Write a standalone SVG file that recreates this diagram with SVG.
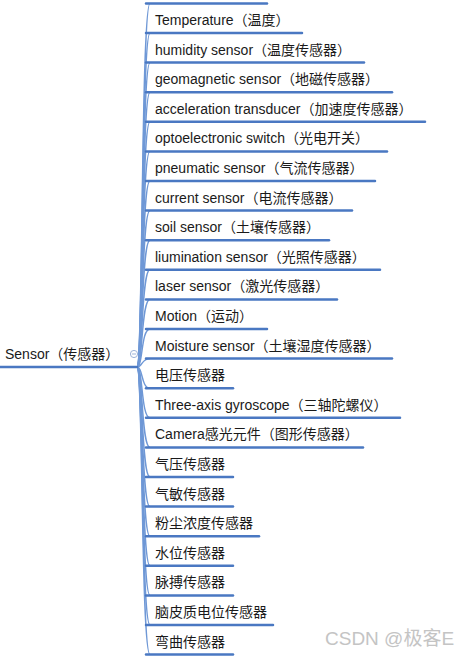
<svg xmlns="http://www.w3.org/2000/svg" width="463" height="657" viewBox="0 0 463 657">
<style>
text{font-family:"Liberation Sans","Noto Sans CJK SC",sans-serif;font-size:14px;fill:#1a1a1a}
.ul{stroke:#4a78c2;stroke-width:2.5;fill:none;stroke-linecap:round}
.cn path{stroke:#6f98d6;stroke-width:1.4;fill:none}
.wm{font-size:19px;fill:#c4c4c4}
</style>
<rect width="463" height="657" fill="#ffffff"/>
<g id="connectors" class="cn">
<path d="M137,367 C143,367 141,3.4 150,3.4"/>
<path d="M137,367 C143,367 141,33 150,33"/>
<path d="M137,367 C143,367 141,62.6 150,62.6"/>
<path d="M137,367 C143,367 141,92.2 150,92.2"/>
<path d="M137,367 C143,367 141,121.8 150,121.8"/>
<path d="M137,367 C143,367 141,151.4 150,151.4"/>
<path d="M137,367 C143,367 141,181 150,181"/>
<path d="M137,367 C143,367 141,210.6 150,210.6"/>
<path d="M137,367 C143,367 141,240.2 150,240.2"/>
<path d="M137,367 C143,367 141,269.8 150,269.8"/>
<path d="M137,367 C143,367 141,299.4 150,299.4"/>
<path d="M137,367 C143,367 141,329 150,329"/>
<path d="M137,367 C143,367 141,358.6 150,358.6"/>
<path d="M137,367 C143,367 141,388.2 150,388.2"/>
<path d="M137,367 C143,367 141,417.8 150,417.8"/>
<path d="M137,367 C143,367 141,447.4 150,447.4"/>
<path d="M137,367 C143,367 141,477 150,477"/>
<path d="M137,367 C143,367 141,506.6 150,506.6"/>
<path d="M137,367 C143,367 141,536.2 150,536.2"/>
<path d="M137,367 C143,367 141,565.8 150,565.8"/>
<path d="M137,367 C143,367 141,595.4 150,595.4"/>
<path d="M137,367 C143,367 141,625 150,625"/>
<path d="M137,367 C143,367 141,654.6 150,654.6"/>
</g>
<g id="root">
<text x="5" y="359">Sensor（传感器）</text>
<line class="ul" x1="0" y1="367" x2="137" y2="367" stroke-width="2"/>
<circle cx="134" cy="354" r="3.6" fill="#ffffff" stroke="#9db3d8" stroke-width="1"/>
<line x1="132" y1="354" x2="136" y2="354" stroke="#9db3d8" stroke-width="1"/>
</g>
<g id="n-prev"><line class="ul" x1="146" y1="3.4" x2="267" y2="3.4"/></g>
<g id="n1"><text x="155" y="25">Temperature（温度）</text><line class="ul" x1="146" y1="33" x2="302" y2="33"/></g>
<g id="n2"><text x="155" y="54.6">humidity sensor（温度传感器）</text><line class="ul" x1="146" y1="62.6" x2="364" y2="62.6"/></g>
<g id="n3"><text x="155" y="84.2">geomagnetic sensor（地磁传感器）</text><line class="ul" x1="146" y1="92.2" x2="392" y2="92.2"/></g>
<g id="n4"><text x="155" y="113.8">acceleration transducer（加速度传感器）</text><line class="ul" x1="146" y1="121.8" x2="425" y2="121.8"/></g>
<g id="n5"><text x="155" y="143.4">optoelectronic switch（光电开关）</text><line class="ul" x1="146" y1="151.4" x2="387" y2="151.4"/></g>
<g id="n6"><text x="155" y="173">pneumatic sensor（气流传感器）</text><line class="ul" x1="146" y1="181" x2="375" y2="181"/></g>
<g id="n7"><text x="155" y="202.6">current sensor（电流传感器）</text><line class="ul" x1="146" y1="210.6" x2="352" y2="210.6"/></g>
<g id="n8"><text x="155" y="232.2">soil sensor（土壤传感器）</text><line class="ul" x1="146" y1="240.2" x2="329" y2="240.2"/></g>
<g id="n9"><text x="155" y="261.8">liumination sensor（光照传感器）</text><line class="ul" x1="146" y1="269.8" x2="380" y2="269.8"/></g>
<g id="n10"><text x="155" y="291.4">laser sensor（激光传感器）</text><line class="ul" x1="146" y1="299.4" x2="337" y2="299.4"/></g>
<g id="n11"><text x="155" y="321">Motion（运动）</text><line class="ul" x1="146" y1="329" x2="267" y2="329"/></g>
<g id="n12"><text x="155" y="350.6">Moisture sensor（土壤湿度传感器）</text><line class="ul" x1="146" y1="358.6" x2="392" y2="358.6"/></g>
<g id="n13"><text x="155" y="380.2">电压传感器</text><line class="ul" x1="146" y1="388.2" x2="233" y2="388.2"/></g>
<g id="n14"><text x="155" y="409.8">Three-axis gyroscope（三轴陀螺仪）</text><line class="ul" x1="146" y1="417.8" x2="400" y2="417.8"/></g>
<g id="n15"><text x="155" y="439.4">Camera感光元件（图形传感器）</text><line class="ul" x1="146" y1="447.4" x2="363" y2="447.4"/></g>
<g id="n16"><text x="155" y="469">气压传感器</text><line class="ul" x1="146" y1="477" x2="233" y2="477"/></g>
<g id="n17"><text x="155" y="498.6">气敏传感器</text><line class="ul" x1="146" y1="506.6" x2="233" y2="506.6"/></g>
<g id="n18"><text x="155" y="528.2">粉尘浓度传感器</text><line class="ul" x1="146" y1="536.2" x2="259" y2="536.2"/></g>
<g id="n19"><text x="155" y="557.8">水位传感器</text><line class="ul" x1="146" y1="565.8" x2="233" y2="565.8"/></g>
<g id="n20"><text x="155" y="587.4">脉搏传感器</text><line class="ul" x1="146" y1="595.4" x2="233" y2="595.4"/></g>
<g id="n21"><text x="155" y="617">脑皮质电位传感器</text><line class="ul" x1="146" y1="625" x2="273" y2="625"/></g>
<g id="n22"><text x="155" y="646.6">弯曲传感器</text><line class="ul" x1="146" y1="654.6" x2="233" y2="654.6"/></g>
<text class="wm" x="325" y="645">CSDN @极客E</text>
</svg>
